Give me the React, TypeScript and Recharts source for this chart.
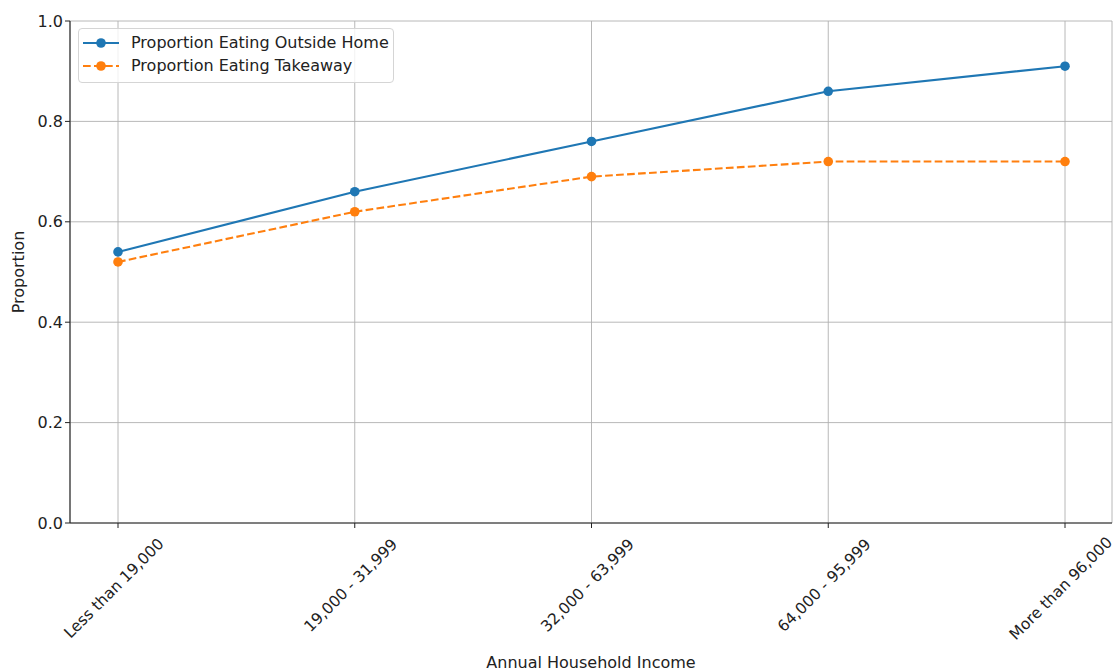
import React from 'react';
import {
  LineChart,
  Line,
  XAxis,
  YAxis,
  CartesianGrid,
} from 'recharts';

const incomeBands = [
  'Less than 19,000',
  '19,000 - 31,999',
  '32,000 - 63,999',
  '64,000 - 95,999',
  'More than 96,000',
];
const outsideHome = [0.54, 0.66, 0.76, 0.86, 0.91];
const takeaway = [0.52, 0.62, 0.69, 0.72, 0.72];
const yTicks = [0, 0.2, 0.4, 0.6, 0.8, 1.0];

const BLUE = '#1f77b4';
const ORANGE = '#ff7f0e';
const FONT = '"DejaVu Sans", sans-serif';
const FS = 16;
const TICK_FS = 15.5;

const data = incomeBands.map((band, i) => ({
  band,
  outside: outsideHome[i],
  takeaway: takeaway[i],
}));

// matplotlib-style rotated label: bounding box centred under the tick
const RotatedTick = ({ x, y, payload }: any) => {
  const label = String(payload.value);
  const w = label.length * 8.3;
  const half = ((w + TICK_FS) * Math.SQRT1_2) / 2;
  const cy = y + 6 + half;
  return (
    <text
      x={0}
      y={0}
      transform={`translate(${x - 4},${cy}) rotate(-45)`}
      textAnchor="middle"
      dominantBaseline="central"
      fontSize={TICK_FS}
      fontFamily={FONT}
      fill="#222"
    >
      {label}
    </text>
  );
};

const XLabel = ({ viewBox }: any) => (
  <text
    x={viewBox.x + viewBox.width / 2}
    y={662}
    textAnchor="middle"
    dominantBaseline="central"
    fontSize={FS}
    fontFamily={FONT}
    fill="#222"
  >
    Annual Household Income
  </text>
);

const YLabel = ({ viewBox }: any) => {
  const cy = viewBox.y + viewBox.height / 2;
  return (
    <text
      x={0}
      y={0}
      transform={`translate(18,${cy}) rotate(-90)`}
      textAnchor="middle"
      dominantBaseline="central"
      fontSize={FS}
      fontFamily={FONT}
      fill="#222"
    >
      Proportion
    </text>
  );
};

const legendItems = [
  { name: 'Proportion Eating Outside Home', color: BLUE, dash: undefined },
  { name: 'Proportion Eating Takeaway', color: ORANGE, dash: '7.7 3.3' },
];

const LegendBox = () => (
  <div
    style={{
      position: 'absolute',
      left: 78,
      top: 28,
      width: 316,
      height: 55,
      boxSizing: 'border-box',
      border: '1px solid #d5d5d5',
      borderRadius: 4,
      background: 'rgba(255,255,255,0.8)',
      padding: '2px 0 0 4px',
      fontFamily: FONT,
      fontSize: FS,
      color: '#222',
      lineHeight: '23px',
    }}
  >
    {legendItems.map((item) => (
      <div key={item.name} style={{ display: 'flex', alignItems: 'center', height: 23 }}>
        <svg width={36} height={14} style={{ marginRight: 12 }}>
          <line
            x1={0}
            y1={7}
            x2={36}
            y2={7}
            stroke={item.color}
            strokeWidth={2.1}
            strokeDasharray={item.dash}
          />
          <circle cx={18} cy={7} r={4.8} fill={item.color} />
        </svg>
        <span>{item.name}</span>
      </div>
    ))}
  </div>
);

export default function App() {
  return (
    <div style={{ position: 'absolute', left: 0, top: 0, background: '#fff' }}>
      <LineChart
        width={1117}
        height={671}
        data={data}
        margin={{ top: 21, right: 5, bottom: 0, left: 0 }}
      >
        <CartesianGrid stroke="#b0b0b0" strokeWidth={0.9} />
        <XAxis
          dataKey="band"
          height={148}
          padding={{ left: 48, right: 47 }}
          interval={0}
          tick={<RotatedTick />}
          tickSize={5}
          tickLine={{ stroke: '#222' }}
          axisLine={{ stroke: '#222', strokeWidth: 1.1 }}
          label={<XLabel />}
        />
        <XAxis
          xAxisId="top"
          orientation="top"
          dataKey="band"
          height={0}
          tick={false}
          tickLine={false}
          axisLine={{ stroke: '#222', strokeWidth: 1.1 }}
        />
        <YAxis
          domain={[0, 1]}
          ticks={yTicks}
          width={70}
          tickSize={5}
          tickFormatter={(v: number) => v.toFixed(1)}
          tick={{ fill: '#222', fontSize: FS, fontFamily: FONT }}
          tickLine={{ stroke: '#222' }}
          axisLine={{ stroke: '#222', strokeWidth: 1.1 }}
          label={<YLabel />}
        />
        <YAxis
          yAxisId="right"
          orientation="right"
          width={0}
          domain={[0, 1]}
          tick={false}
          tickLine={false}
          axisLine={{ stroke: '#222', strokeWidth: 1.1 }}
        />
        <Line
          type="linear"
          dataKey="outside"
          name="Proportion Eating Outside Home"
          stroke={BLUE}
          strokeWidth={2.1}
          dot={{ r: 4.8, fill: BLUE, stroke: BLUE, strokeWidth: 0 }}
          activeDot={false}
          isAnimationActive={false}
        />
        <Line
          type="linear"
          dataKey="takeaway"
          name="Proportion Eating Takeaway"
          stroke={ORANGE}
          strokeWidth={2.1}
          strokeDasharray="7.7 3.3"
          dot={{ r: 4.8, fill: ORANGE, stroke: ORANGE, strokeWidth: 0, strokeDasharray: '' }}
          activeDot={false}
          isAnimationActive={false}
        />
      </LineChart>
      <LegendBox />
    </div>
  );
}
